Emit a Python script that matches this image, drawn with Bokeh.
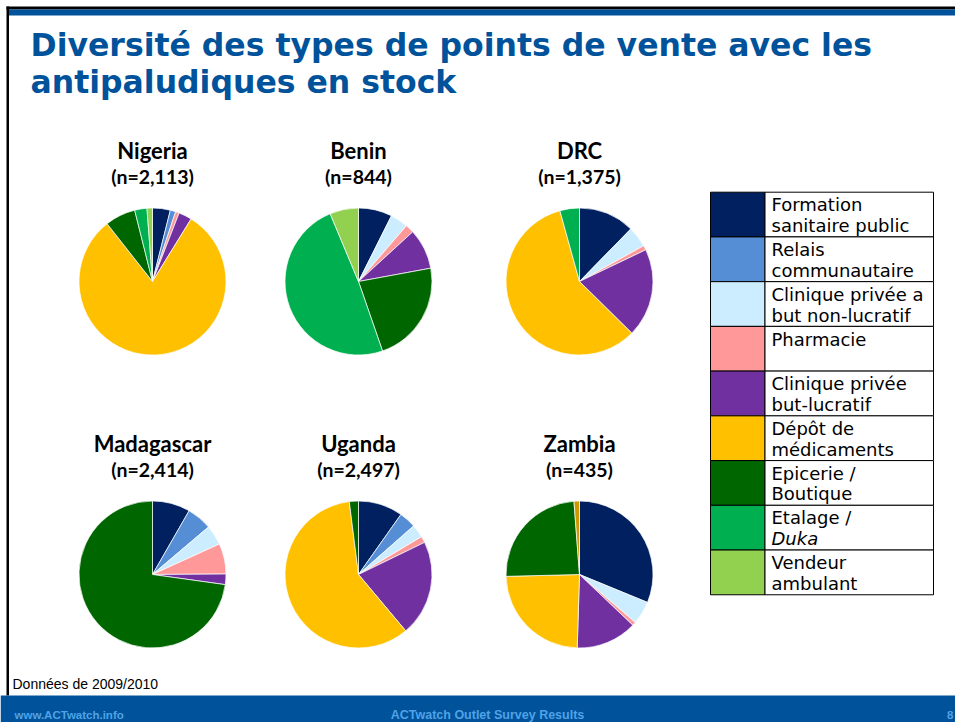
import math
from bokeh.plotting import figure
from bokeh.models import Range1d, ColumnDataSource
from bokeh.embed import file_html
from bokeh.resources import INLINE
from bokeh.core.properties import value

# ---------------- data ----------------
categories = ["Formation sanitaire public", "Relais communautaire",
              "Clinique privée a but non-lucratif", "Pharmacie",
              "Clinique privée but-lucratif", "Dépôt de médicaments",
              "Epicerie / Boutique", "Etalage / Duka", "Vendeur ambulant", "Autre"]
legend_lines = [["Formation", "sanitaire public"], ["Relais", "communautaire"],
                ["Clinique privée a", "but non-lucratif"], ["Pharmacie", ""],
                ["Clinique privée", "but-lucratif"], ["Dépôt de", "médicaments"],
                ["Epicerie /", "Boutique"], ["Etalage /", "Duka"], ["Vendeur", "ambulant"]]
legend_styles = [["normal", "normal"]] * 7 + [["normal", "italic"], ["normal", "normal"]]
colors = ["#002060", "#558ED5", "#CCECFF", "#FF9999", "#7030A0",
          "#FFC000", "#006600", "#00B050", "#92D050", "#CC9900"]

countries = ["Nigeria", "Benin", "DRC", "Madagascar", "Uganda", "Zambia"]
sample_sizes = ["(n=2,113)", "(n=844)", "(n=1,375)", "(n=2,414)", "(n=2,497)", "(n=435)"]

nigeria = [3.9, 1.2, 0, 0.8, 2.9, 80.6, 6.7, 2.7, 1.2, 0]
benin = [7.4, 0, 3.9, 1.9, 8.9, 0, 22.6, 49.0, 6.3, 0]
drc = [12.3, 0, 4.6, 1.0, 19.5, 58.3, 0, 4.3, 0, 0]
madagascar = [8.3, 5.5, 4.4, 6.7, 2.3, 0, 72.8, 0, 0, 0]
uganda = [9.8, 3.7, 2.9, 1.4, 21.1, 59.1, 2.0, 0, 0, 0]
zambia = [31.2, 0, 5.1, 0.8, 13.4, 24.1, 24.2, 0, 0, 1.2]
series = [nigeria, benin, drc, madagascar, uganda, zambia]

title_lines = ["Diversité des types de points de vente avec les", "antipaludiques en stock"]
note_text = "Données de 2009/2010"
footer_left = "www.ACTwatch.info"
footer_mid = "ACTwatch Outlet Survey Results"
footer_right = "8"

# ---------------- layout (page pixel coords, y from top) ----------------
W, H = 955, 722
def Y(y):
    return H - y

def TB(y, fs, k=0.4):
    # baseline correction for rendered text
    return Y(y - k * fs)

p = figure(width=W, height=H, x_range=Range1d(0, W), y_range=Range1d(0, H),
           output_backend="svg", toolbar_location=None, min_border=0)
p.axis.visible = False
p.grid.visible = False
p.outline_line_color = None
p.background_fill_color = "white"
p.border_fill_color = "white"

BLUE = "#00529B"
LIGHTBLUE = "#4FA3E6"

# slide frame
p.quad(left=[6], right=[W], top=[Y(6)], bottom=[Y(9)], fill_color="black", line_color=None)
p.quad(left=[8], right=[W], top=[Y(9)], bottom=[Y(15)], fill_color=BLUE, line_color=None)
p.quad(left=[6], right=[8.5], top=[Y(6)], bottom=[Y(695)], fill_color="black", line_color=None)
# footer bar
p.quad(left=[0], right=[W], top=[Y(695)], bottom=[Y(H)], fill_color=BLUE, line_color=None)

# title
TFS = 31.5
p.text(x=[30, 30], y=[TB(56, TFS, 0.37), TB(93, TFS, 0.37)], text=title_lines,
       text_font=value("DejaVu Sans"), text_font_style="bold", text_font_size=f"{TFS}px",
       text_color=BLUE, text_align="left", text_baseline="alphabetic")

# pies
centers = [(152, 281), (358, 281), (579, 281), (152, 574), (358, 574), (579, 574)]
R = 73.5
wx, wy, ws, we, wc = [], [], [], [], []
for (cx, cy), vals in zip(centers, series):
    total = float(sum(vals))
    cum = 0.0
    for v, c in zip(vals, colors):
        if v <= 0:
            continue
        a0 = math.pi / 2 - 2 * math.pi * cum / total
        cum += v
        a1 = math.pi / 2 - 2 * math.pi * cum / total
        wx.append(cx); wy.append(Y(cy)); ws.append(a0); we.append(a1); wc.append(c)
src = ColumnDataSource(dict(x=wx, y=wy, s=ws, e=we, c=wc))
p.wedge(x="x", y="y", radius=R, start_angle="s", end_angle="e", direction="clock",
        fill_color="c", line_color="white", line_width=0.7, source=src)

# country labels
CFS, NFS = 22, 19.5
lx = [c[0] for c in centers]
p.text(x=lx, y=[TB(cy - 121, CFS, 0.44) for _, cy in centers], text=countries, text_font=value("Lato"),
       text_font_style="bold", text_font_size=f"{CFS}px", text_color="black",
       text_align="center", text_baseline="alphabetic")
p.text(x=lx, y=[TB(cy - 96, NFS, 0.44) for _, cy in centers], text=sample_sizes, text_font=value("Lato"),
       text_font_style="bold", text_font_size=f"{NFS}px", text_color="black",
       text_align="center", text_baseline="alphabetic")

# legend table
L0, LM, L1 = 710, 764.5, 933
top0, rowh = 191.7, 44.73
n = len(legend_lines)
tops = [top0 + i * rowh for i in range(n)]
p.quad(left=[L0] * n, right=[LM] * n, top=[Y(t) for t in tops], bottom=[Y(t + rowh) for t in tops],
       fill_color=colors[:n], line_color="black", line_width=1)
p.quad(left=[LM] * n, right=[L1] * n, top=[Y(t) for t in tops], bottom=[Y(t + rowh) for t in tops],
       fill_color="white", line_color="black", line_width=1)
LFS = 18
tx, ty, tt, tst = [], [], [], []
for t, lines, sts in zip(tops, legend_lines, legend_styles):
    for k, (ln, st) in enumerate(zip(lines, sts)):
        if not ln:
            continue
        tx.append(771); ty.append(TB(t + 19.3 + 20.7 * k, LFS, 0.37)); tt.append(ln); tst.append(st)
p.text(x="x", y="y", text="t", text_font_style="s", source=ColumnDataSource(dict(x=tx, y=ty, t=tt, s=tst)),
       text_font=value("DejaVu Sans"), text_font_size=f"{LFS}px", text_color="black",
       text_align="left", text_baseline="alphabetic")

# note
p.text(x=[12], y=[TB(688, 14, 0.3)], text=[note_text], text_font=value("Liberation Sans"),
       text_font_size="14px", text_color="black", text_align="left", text_baseline="alphabetic")

# footer texts
for txt, xx, al, fs in [(footer_left, 14, "left", 11.5), (footer_mid, 487, "center", 12.5),
                        (footer_right, 953, "right", 11.5)]:
    p.text(x=[xx], y=[TB(718, fs, 0.3)], text=[txt], text_font=value("Liberation Sans"),
           text_font_style="bold", text_font_size=f"{fs}px", text_color=LIGHTBLUE,
           text_align=al, text_baseline="alphabetic")

open("out.html", "w").write(file_html(p, INLINE))
